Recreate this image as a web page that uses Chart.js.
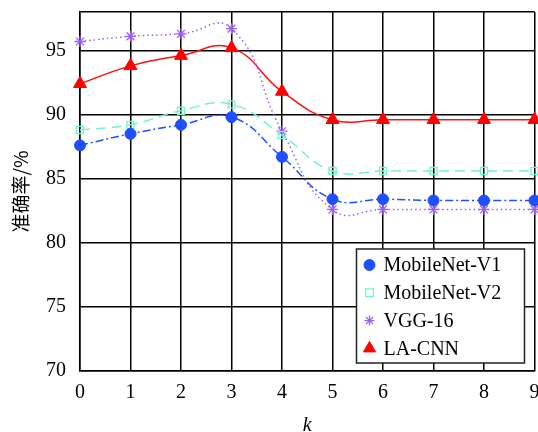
<!DOCTYPE html>
<html>
<head>
<meta charset="utf-8">
<script src="https://cdn.jsdelivr.net/npm/chart.js@4"></script>
<style>
  html,body{margin:0;padding:0;background:#fff;overflow:hidden;}
  #wrap{width:543px;height:432px;position:relative;}
</style>
</head>
<body>
<div id="wrap"><canvas id="c"></canvas></div>
<script>
const kLabels = ['0','1','2','3','4','5','6','7','8','9'];
const mobileV1 = [87.6, 88.5, 89.2, 89.8, 86.7, 83.4, 83.4, 83.3, 83.3, 83.3];
const mobileV2 = [88.8, 89.2, 90.3, 90.8, 88.4, 85.6, 85.6, 85.6, 85.6, 85.6];
const vgg16    = [95.7, 96.1, 96.3, 96.7, 88.7, 82.6, 82.6, 82.6, 82.6, 82.6];
const laCnn    = [92.4, 93.8, 94.6, 95.2, 91.8, 89.6, 89.6, 89.6, 89.6, 89.6];
const yTicks   = [70, 75, 80, 85, 90, 95];

const SERIF = '"Liberation Serif", "Times New Roman", serif';

const boxLegend = {
  id: 'boxLegend',
  afterDraw(chart) {
    const {ctx, chartArea: a} = chart;
    const L = a.right - 178, T = a.bottom - 122, W = 168, H = 114;
    ctx.save();
    ctx.fillStyle = '#fff';
    ctx.fillRect(L, T, W, H);
    ctx.strokeStyle = '#222'; ctx.lineWidth = 1.5;
    ctx.strokeRect(L, T, W, H);
    ctx.font = '20px ' + SERIF; ctx.textBaseline = 'middle'; ctx.textAlign = 'left';
    chart.data.datasets.forEach((ds, i) => {
      const y = T + 16 + i * 27.8;
      ctx.fillStyle = ds.pointBackgroundColor; ctx.strokeStyle = ds.pointBorderColor;
      ctx.lineWidth = ds.pointBorderWidth; ctx.setLineDash([]);
      Chart.helpers.drawPoint(ctx, {pointStyle: ds.pointStyle, radius: ds.legendRadius, rotation: 0, borderWidth: ds.pointBorderWidth}, L + 13, y);
      ctx.fillStyle = '#000';
      ctx.fillText(ds.label, L + 27, y + 1);
    });
    ctx.restore();
  }
};

new Chart(document.getElementById('c'), {
  type: 'line',
  data: {
    labels: kLabels,
    datasets: [
      { label: 'MobileNet-V1', data: mobileV1, borderColor: '#1f4fff', borderWidth: 1.5, borderDash: [8,3,2,3],
        pointStyle: 'circle', pointRadius: 5.5, legendRadius: 5.5, pointBackgroundColor: '#1f4fff', pointBorderColor: '#1f4fff', pointBorderWidth: 1, tension: 0.45 },
      { label: 'MobileNet-V2', data: mobileV2, borderColor: '#6ff5cf', borderWidth: 1.5, borderDash: [10,6],
        pointStyle: 'rect', pointRadius: 5, legendRadius: 5.5, pointBackgroundColor: 'rgba(255,255,255,0)', pointBorderColor: '#6ff5cf', pointBorderWidth: 1.3, tension: 0.45 },
      { label: 'VGG-16', data: vgg16, borderColor: '#a05cf5', borderWidth: 1.5, borderDash: [1.5,3],
        pointStyle: 'star', pointRadius: 5.5, legendRadius: 5, pointBackgroundColor: '#a05cf5', pointBorderColor: '#a05cf5', pointBorderWidth: 1.3, tension: 0.5 },
      { label: 'LA-CNN', data: laCnn, borderColor: '#ff1010', borderWidth: 1.5,
        pointStyle: 'triangle', pointRadius: 7.5, legendRadius: 7, pointBackgroundColor: '#ff0000', pointBorderColor: '#ff0000', pointBorderWidth: 1, tension: 0.45 }
    ]
  },
  options: {
    responsive: true, maintainAspectRatio: false, animation: false,
    layout: { padding: { top: 12, right: 0, left: 0, bottom: 0 } },
    plugins: { legend: { display: false }, tooltip: { enabled: false } },
    scales: {
      x: {
        offset: false,
        grid: { color: '#000', lineWidth: 1.5, drawTicks: false },
        border: { color: '#000', width: 1.5 },
        ticks: { color: '#000', font: { family: SERIF, size: 20 }, padding: 10, maxRotation: 0, autoSkip: false },
        title: { display: true, text: 'k', color: '#000', font: { family: SERIF, size: 20, style: 'italic' }, padding: { top: 0, bottom: -6 } },
        afterFit: s => { s.height = 61; s.paddingLeft = 0; s.paddingRight = 0; }
      },
      y: {
        min: 70, max: 98,
        afterBuildTicks: s => { s.ticks = yTicks.map(v => ({ value: v })).concat([{ value: 98 }]); },
        grid: { color: '#000', lineWidth: 1.5, drawTicks: false },
        border: { color: '#000', width: 1.5 },
        ticks: { color: '#000', font: { family: SERIF, size: 20 }, padding: 14,
                 callback: v => yTicks.includes(v) ? String(v) : '' },
        title: { display: true, text: '准确率/%', color: '#000', font: { family: '"Noto Sans CJK SC", sans-serif', size: 19 }, padding: { top: 9, bottom: 0 } },
        afterFit: s => { s.width = 80; s.paddingTop = 0; s.paddingBottom = 0; }
      }
    }
  },
  plugins: [boxLegend]
});
</script>
</body>
</html>
